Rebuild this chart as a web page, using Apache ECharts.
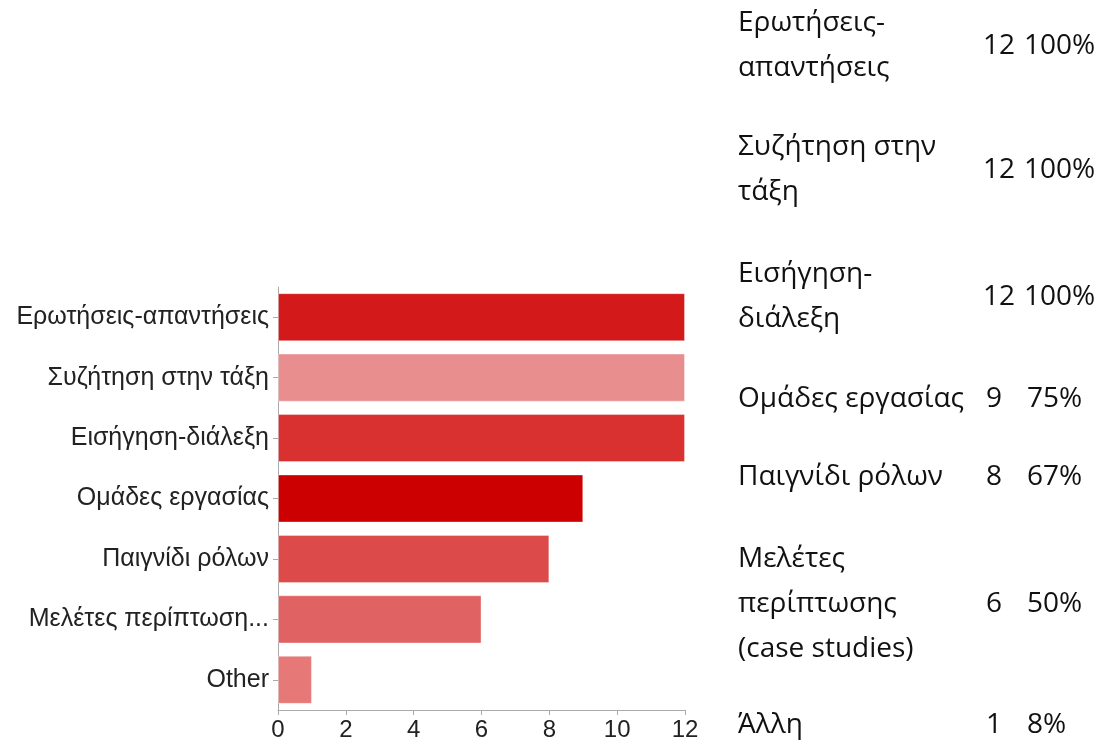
<!DOCTYPE html>
<html>
<head>
<meta charset="utf-8">
<script src="https://cdn.jsdelivr.net/npm/echarts@6/dist/echarts.min.js"></script>
<style>
html,body{margin:0;padding:0;background:#fff;}
#chart{width:1104px;height:744px;}
</style>
</head>
<body>
<div id="chart"></div>
<script>
// ---- data ----
const categories = ["Ερωτήσεις-απαντήσεις","Συζήτηση στην τάξη","Εισήγηση-διάλεξη","Ομάδες εργασίας","Παιγνίδι ρόλων","Μελέτες περίπτωση...","Other"];
const counts = [12, 12, 12, 9, 8, 6, 1];
const barColors = ["#d4191b","#e88e8e","#d93030","#cc0000","#dc4a4a","#e06262","#e67878"];
const xTicks = [0, 2, 4, 6, 8, 10, 12];

const tableLabels = [
  ["Ερωτήσεις-", "απαντήσεις"],
  ["Συζήτηση στην", "τάξη"],
  ["Εισήγηση-", "διάλεξη"],
  ["Ομάδες εργασίας"],
  ["Παιγνίδι ρόλων"],
  ["Μελέτες", "περίπτωσης", "(case studies)"],
  ["Άλλη"]
];
const tableCounts = ["12", "12", "12", "9", "8", "6", "1"];
const tablePercents = ["100%", "100%", "100%", "75%", "67%", "50%", "8%"];

// ---- layout (positions only) ----
const rowBaselines = [54, 178, 305, 407, 485, 612, 733];
const lineH = 45;
const baseOff = 8; // middle-of-line to baseline
const tableFont = '28px "Open Sans", "Noto Sans", sans-serif';

const graphics = [];
function txt(x, y, t) {
  return { type: 'text', x: x, y: y - baseOff,
    style: { text: t, font: tableFont, fill: '#111', verticalAlign: 'middle', align: 'left' } };
}
tableLabels.forEach((lines, i) => {
  const n = lines.length;
  lines.forEach((t, j) => {
    graphics.push(txt(738, rowBaselines[i] + (j - (n - 1) / 2) * lineH, t));
  });
  graphics.push(txt(tableCounts[i].length > 1 ? 983 : 986, rowBaselines[i], tableCounts[i]));
  graphics.push(txt(tablePercents[i].length > 3 ? 1024 : 1027, rowBaselines[i], tablePercents[i]));
});

const chart = echarts.init(document.getElementById('chart'), null, {renderer: 'canvas'});
chart.setOption({
  backgroundColor: '#fff',
  animation: false,
  grid: { left: 278, top: 287, width: 407, height: 423, containLabel: false },
  xAxis: {
    type: 'value', min: xTicks[0], max: xTicks[xTicks.length - 1], interval: 2,
    axisLine: { show: true, lineStyle: { color: '#aaa', width: 1 } },
    axisTick: { show: true, length: 5, lineStyle: { color: '#aaa' } },
    splitLine: { show: false },
    axisLabel: { margin: 8, color: '#222', fontSize: 24, fontFamily: '"Liberation Sans", Arial, sans-serif' }
  },
  yAxis: {
    type: 'category', data: categories, inverse: true,
    axisLine: { show: true, lineStyle: { color: '#aaa', width: 1 } },
    axisTick: { show: true, length: 5, alignWithLabel: true, lineStyle: { color: '#aaa' } },
    axisLabel: { margin: 9, color: '#222', fontSize: 25, fontFamily: '"Liberation Sans", Arial, sans-serif' }
  },
  series: [{
    type: 'bar',
    data: counts.map((v, i) => ({ value: v, itemStyle: { color: barColors[i] } })),
    barCategoryGap: '20.5%',
    itemStyle: { borderColor: 'rgba(255,255,255,0.35)', borderWidth: 1 }
  }],
  graphic: graphics
});
</script>
</body>
</html>
